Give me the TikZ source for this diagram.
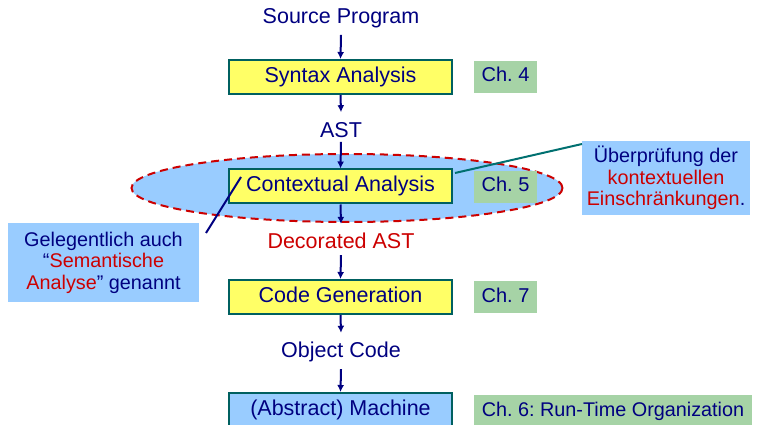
\documentclass[tikz,border=0pt]{standalone}
\usepackage{fontspec}
\setmainfont{Liberation Sans}
\frenchspacing
\usetikzlibrary{arrows.meta,shapes.geometric}
\definecolor{navy}{RGB}{0,0,128}
\definecolor{dred}{RGB}{204,0,0}
\definecolor{boxborder}{RGB}{0,96,96}
\definecolor{yel}{RGB}{255,255,102}
\definecolor{grn}{RGB}{166,211,166}
\definecolor{lblue}{RGB}{153,204,255}
\definecolor{teal2}{RGB}{0,112,112}
\tikzset{
  phase/.style={draw=boxborder, line width=2pt, fill=yel, minimum width=223pt, minimum height=34pt, inner sep=0pt, text=navy, font=\fontsize{21.5}{25}\selectfont, text height=15pt, text depth=4pt},
  chap/.style={fill=grn, minimum height=32pt, inner sep=0pt, text=navy, font=\fontsize{20}{24}\selectfont, text height=14pt, text depth=4pt},
  lbl/.style={text=navy, font=\fontsize{21.5}{25}\selectfont, inner sep=0pt},
  flow/.style={draw=navy, line width=2pt, -{Latex[length=7pt,width=7pt]}},
  callout/.style={fill=lblue, inner sep=0pt, align=center, text=navy, font=\fontsize{19.8}{21.5}\selectfont},
}
\begin{document}
\begin{tikzpicture}[x=1pt,y=-1pt]
\useasboundingbox (0,0) rectangle (761,425);
% ellipse
\node[ellipse, fill=lblue, draw=dred, line width=2pt, dash pattern=on 8pt off 5pt, minimum width=431pt, minimum height=68pt, inner sep=0pt] (ell) at (347,188) {};
% labels
\node[lbl] (src) at (341,18) {Source Program};
\node[lbl] (ast) at (341,130) {AST};
\node[lbl, text=dred] (dast) at (341,241) {Decorated AST};
\node[lbl] (obj) at (341,352) {Object Code};
% phases
\node[phase] (syn) at (340.5,77) {Syntax Analysis};
\node[phase] (ctx) at (340.5,186.5) {Contextual Analysis};
\node[phase] (gen) at (340.5,297) {Code Generation};
\node[phase, fill=lblue] (mach) at (340.5,410) {(Abstract) Machine};
% chapters
\node[chap, minimum width=63pt] (c4) at (505.5,77) {Ch. 4};
\node[chap, minimum width=63pt] (c5) at (505.5,187) {Ch. 5};
\node[chap, minimum width=63pt] (c7) at (505.5,297) {Ch. 7};
\node[chap, minimum width=278pt, minimum height=33pt, font=\fontsize{19.8}{23}\selectfont] (c6) at (613,411.5) {Ch. 6: Run-Time Organization};
% arrows
\draw[flow] ([yshift=-7pt]src.south) -- (syn.north);
\draw[flow] (syn.south) -- ([yshift=10pt]ast.north);
\draw[flow] ([yshift=-4pt]ast.south) -- (ctx.north);
\draw[flow] (ctx.south) -- ([yshift=9pt]dast.north);
\draw[flow] ([yshift=-6pt]dast.south) -- (gen.north);
\draw[flow] (gen.south) -- ([yshift=9pt]obj.north);
\draw[flow] ([yshift=-7pt]obj.south) -- (mach.north);
% callouts
\node[callout, minimum width=191pt, minimum height=79pt] (gel) at (103.5,262.5) {Gelegentlich auch\\``\textcolor{dred}{Semantische}\\\textcolor{dred}{Analyse}'' genannt};
\node[callout, minimum width=168pt, minimum height=74pt] (ueb) at (666,178) {Überprüfung der\\\textcolor{dred}{kontextuellen}\\\textcolor{dred}{Einschränkungen}.};
\coordinate (gl1) at (206,233);
\coordinate (gl2) at (241,177);
\draw[navy, line width=2pt] (gl1) -- (gl2);
\coordinate (ul1) at (455,173);
\coordinate (ul2) at (582,144);
\draw[teal2, line width=2pt] (ul1) -- (ul2);
\end{tikzpicture}
\end{document}
